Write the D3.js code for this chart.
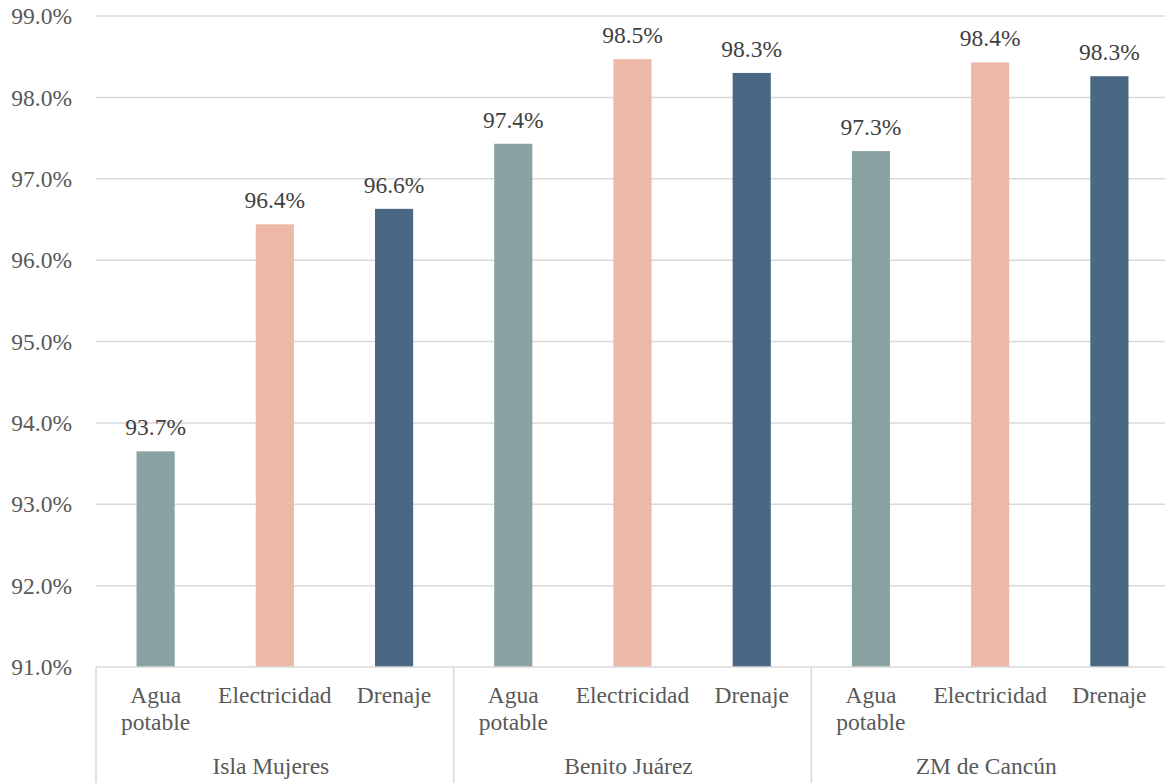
<!DOCTYPE html>
<html><head><meta charset="utf-8">
<script src="https://cdn.jsdelivr.net/npm/d3@7"></script>
<style>
body{margin:0;background:#fff;}
svg{display:block;}
</style></head>
<body><svg id="c" width="1165" height="783"></svg>
<script>
const groups = ["Isla Mujeres", "Benito Juárez", "ZM de Cancún"];
const categories = ["Agua potable", "Electricidad", "Drenaje"];
const categoryLines = [["Agua", "potable"], ["Electricidad"], ["Drenaje"]];
const aguaPotable = [93.65, 97.43, 97.34];
const electricidad = [96.44, 98.47, 98.43];
const drenaje = [96.63, 98.30, 98.26];
const yTicks = [91, 92, 93, 94, 95, 96, 97, 98, 99];
const colors = ["#8aa2a2", "#eeb8a9", "#4a6784"];
const FONT = "\"Liberation Serif\", zzzNone";
const FS = 23.5;

const series = [aguaPotable, electricidad, drenaje];
const data = [];
groups.forEach((g, gi) => categories.forEach((c, ci) => data.push({g, c, ci, v: series[ci][gi]})));

const svg = d3.select("#c");
const mLeft = 96, mRight = 1169, mTop = 16, mBottom = 667;

const x0 = d3.scaleBand().domain(groups).range([mLeft, mRight]).padding(0);
const x1 = d3.scaleBand().domain(categories).range([0, x0.bandwidth()]).paddingInner(0.68).paddingOuter(0.34);
const y = d3.scaleLinear().domain([91, 99]).range([mBottom, mTop]);

// gridlines
svg.append("g").selectAll("line").data(yTicks.slice(1)).join("line")
  .attr("x1", mLeft).attr("x2", mRight)
  .attr("y1", d => y(d)).attr("y2", d => y(d))
  .attr("stroke", "#d9d9d9").attr("stroke-width", 1.5);

// y tick labels
svg.append("g").selectAll("text").data(yTicks).join("text")
  .style("font-family", FONT).attr("font-size", FS)
  .attr("x", 72).attr("y", d => y(d)).attr("dy", "0.35em")
  .attr("text-anchor", "end").attr("fill", "#595959")
  .text(d => d.toFixed(1) + "%");

// bars
svg.append("g").selectAll("rect").data(data).join("rect")
  .attr("x", d => x0(d.g) + x1(d.c)).attr("width", x1.bandwidth())
  .attr("y", d => y(d.v)).attr("height", d => y(91) - y(d.v))
  .attr("fill", d => colors[d.ci]);

// data labels
svg.append("g").selectAll("text").data(data).join("text")
  .style("font-family", FONT).attr("font-size", FS)
  .attr("x", d => x0(d.g) + x1(d.c) + x1.bandwidth() / 2)
  .attr("y", d => y(d.v) - 16)
  .attr("text-anchor", "middle").attr("fill", "#404040")
  .text(d => d.v.toFixed(1) + "%");

// x axis line
svg.append("line").attr("x1", mLeft).attr("x2", mRight).attr("y1", mBottom).attr("y2", mBottom)
  .attr("stroke", "#d9d9d9").attr("stroke-width", 1.5);

// group separators
const seps = groups.map(g => x0(g)).concat([x0(groups[groups.length - 1]) + x0.bandwidth()]);
svg.append("g").selectAll("line").data(seps).join("line")
  .attr("x1", d => d).attr("x2", d => d).attr("y1", mBottom).attr("y2", 783)
  .attr("stroke", "#d9d9d9").attr("stroke-width", 1.5);

// category labels
groups.forEach(g => {
  categories.forEach((c, ci) => {
    const cx = x0(g) + x1(c) + x1.bandwidth() / 2;
    categoryLines[ci].forEach((ln, li) => {
      svg.append("text")
        .style("font-family", FONT).attr("font-size", FS)
        .attr("x", cx).attr("y", 703 + li * 27).attr("text-anchor", "middle")
        .attr("fill", "#595959").text(ln);
    });
  });
});

// group labels
svg.append("g").selectAll("text").data(groups).join("text")
  .style("font-family", FONT).attr("font-size", FS)
  .attr("x", g => x0(g) + x0.bandwidth() / 2 - 4).attr("y", 774)
  .attr("text-anchor", "middle").attr("fill", "#595959")
  .text(g => g);
</script></body></html>
